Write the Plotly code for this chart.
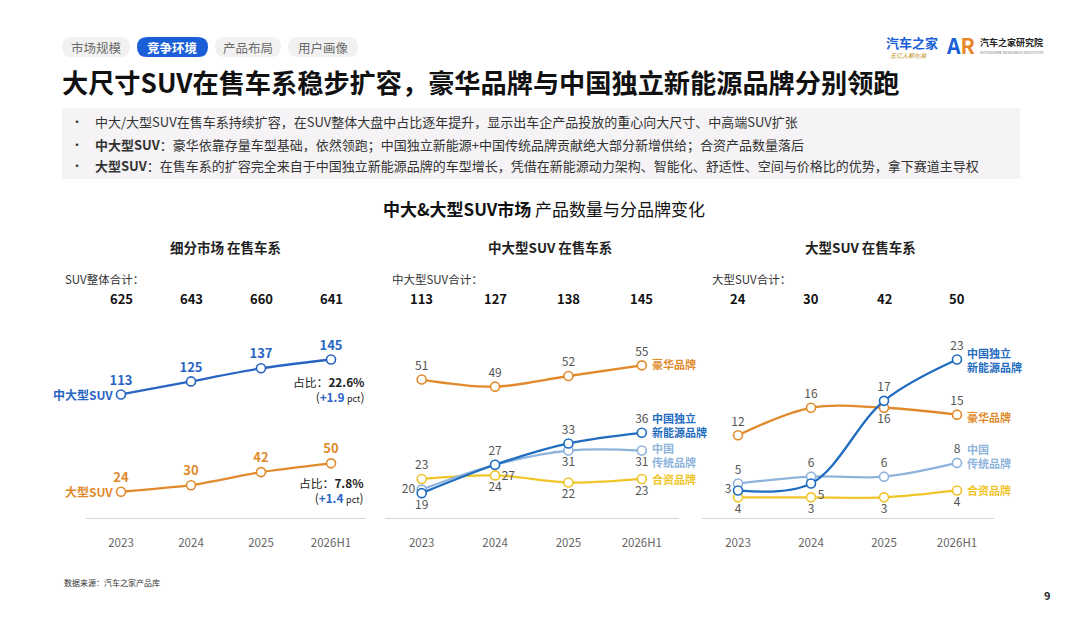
import plotly.graph_objects as go

# page offset: the browser body keeps an 8px margin round the plot
OX, OY = 8, 8
W, H = 1064, 606
FONT = "Noto Sans CJK SC"

# ---------------- data ----------------
years = ["2023", "2024", "2025", "2026H1"]

# chart 1: segment market
total_suv = [625, 643, 660, 641]
mid_large_suv = [113, 125, 137, 145]
large_suv = [24, 30, 42, 50]

# chart 2: mid-large SUV by brand type
total_mid_large = [113, 127, 138, 145]
ml_luxury = [51, 49, 52, 55]
ml_cn_nev = [19, 27, 33, 36]
ml_cn_trad = [20, 27, 31, 31]
ml_jv = [23, 24, 22, 23]

# chart 3: large SUV by brand type (plotted positions / printed labels)
total_large = [24, 30, 42, 50]
lg_luxury = [12, 16, 16, 15]
lg_cn_nev = [4, 5, 17, 23]
lg_cn_nev_labels = ["3", "5", "17", "23"]
lg_cn_trad = [5, 6, 6, 8]
lg_jv = [3, 3, 3, 4]
lg_jv_labels = ["4", "3", "3", "4"]

# ---------------- colours ----------------
BLUE1 = "#2864c2"
ORANGE = "#e08a2c"
NEV = "#1f6cc0"
TRAD = "#8fb4dc"
JV = "#f0c52a"
GRAY = "#555555"


def px(x):
    return (x - OX) / W


def py(y):
    return 1 - (y - OY) / H


fig = go.Figure()

# axes geometry (screen pixels)
Y_BOT, Y_TOP = 518, 310
doms = [(86, 366), (385, 678.5), (701.5, 993.5)]
ppu = [1.093, 3.55, 6.89]
ymins = [0, 12, 0]

for i, ((x0, x1), k, ymin) in enumerate(zip(doms, ppu, ymins)):
    sfx = "" if i == 0 else str(i + 1)
    fig.update_layout(**{
        "xaxis" + sfx: dict(
            domain=[px(x0), px(x1)], anchor="y" + sfx, type="category",
            range=[-0.5, 3.5], showgrid=False, zeroline=False,
            showline=True, linecolor="#d6d6d6", linewidth=1.2,
            ticks="", tickfont=dict(family=FONT, size=11.5, color="#666666"),
            ticklabelstandoff=14, fixedrange=True,
        ),
        "yaxis" + sfx: dict(
            domain=[py(Y_BOT), py(Y_TOP)], anchor="x" + sfx,
            range=[ymin, ymin + (Y_BOT - Y_TOP) / k],
            visible=False, showgrid=False, zeroline=False, fixedrange=True,
        ),
    })


def add_line(xa, ya, vals, color, labels=None, positions="top center",
             lcolor=None, bold=False, size=12, smooth=1.0):
    fig.add_trace(go.Scatter(
        x=years, y=vals, xaxis=xa, yaxis=ya, mode="lines+markers+text",
        line=dict(color=color, width=2.3, shape="spline", smoothing=smooth),
        marker=dict(size=9, color="white", line=dict(color=color, width=1.6)),
        text=labels if labels is not None else [str(v) for v in vals],
        textposition=positions,
        textfont=dict(family=FONT, size=size, color=lcolor or GRAY,
                      weight="bold" if bold else "normal"),
        cliponaxis=False, showlegend=False, hoverinfo="skip",
    ))


# chart 1
add_line("x", "y", mid_large_suv, BLUE1, lcolor=BLUE1, bold=True, size=13, smooth=0.6)
add_line("x", "y", large_suv, ORANGE, lcolor=ORANGE, bold=True, size=13, smooth=0.6)

# chart 2
add_line("x2", "y2", ml_luxury, ORANGE)
add_line("x2", "y2", ml_jv, JV,
         positions=["top center", "bottom center", "bottom center", "bottom center"])
add_line("x2", "y2", ml_cn_trad, TRAD,
         positions=["middle left", "bottom right", "bottom center", "bottom center"])
add_line("x2", "y2", ml_cn_nev, NEV,
         positions=["bottom center", "top center", "top center", "top center"])

# chart 3
add_line("x3", "y3", lg_luxury, ORANGE,
         positions=["top center", "top center", "bottom center", "top center"])
add_line("x3", "y3", lg_jv, JV, labels=lg_jv_labels, positions="bottom center")
add_line("x3", "y3", lg_cn_trad, TRAD)
add_line("x3", "y3", lg_cn_nev, NEV, labels=lg_cn_nev_labels,
         positions=["middle left", "bottom right", "top center", "top center"])

ann = []


def text(x, y, s, size=12, color="#222222", bold=False, xanchor="left",
         yanchor="middle", xref="paper", yref="paper", xshift=0, yshift=0, align="left"):
    ann.append(dict(
        x=x, y=y, xref=xref, yref=yref, text=s, showarrow=False,
        xanchor=xanchor, yanchor=yanchor, xshift=xshift, yshift=yshift, align=align,
        font=dict(family=FONT, size=size, color=color,
                  weight="bold" if bold else "normal"),
    ))


LAST = len(years) - 1  # category index of last year

# chart titles and totals
titles = ["细分市场 在售车系", "中大型SUV 在售车系", "大型SUV 在售车系"]
tot_caps = ["SUV整体合计：", "中大型SUV合计：", "大型SUV合计："]
tot_vals = [total_suv, total_mid_large, total_large]
title_cx = [225, 550, 860]
cap_x = [63, 390, 710]
for i in range(3):
    sfx = "" if i == 0 else str(i + 1)
    text(px(title_cx[i]), py(247), titles[i], size=13.5, bold=True, xanchor="center")
    text(px(cap_x[i]), py(279), tot_caps[i], size=11.5, color="#333333")
    for j, v in enumerate(tot_vals[i]):
        text(j, py(298), str(v), size=13, bold=True, xanchor="center",
             xref="x" + sfx, color="#111111")

# chart 1 series names and share notes
text(0, mid_large_suv[0], "中大型SUV", size=12, bold=True, color=BLUE1,
     xanchor="right", xref="x", yref="y", xshift=-6)
text(0, large_suv[0], "大型SUV", size=12, bold=True, color=ORANGE,
     xanchor="right", xref="x", yref="y", xshift=-6)
share_notes = [("22.6%", "+1.9", 389), ("7.8%", "+1.4", 490)]
for share, delta, yy in share_notes:
    text(px(366), py(yy),
         f"占比：<b>{share}</b><br>(<span style='color:#2864c2'><b>{delta}</b></span> "
         f"<span style='font-size:9px'>pct</span>)",
         size=11.8, color="#222222", xanchor="right", align="right")

# chart 2 / 3 series names
for sfx, lux, nev, trad, jv, shifts in [
    ("2", ml_luxury, ml_cn_nev, ml_cn_trad, ml_jv, (1, 8, -4, 0)),
    ("3", lg_luxury, lg_cn_nev, lg_cn_trad, lg_jv, (-2, 0, 7, 0)),
]:
    xr, yr_ = "x" + sfx, "y" + sfx
    text(LAST, lux[-1], "豪华品牌", size=11, bold=True, color=ORANGE,
         xref=xr, yref=yr_, xshift=8, yshift=shifts[0])
    text(LAST, nev[-1], "中国独立<br>新能源品牌", size=11, bold=True, color=NEV,
         xref=xr, yref=yr_, xshift=8, yshift=shifts[1])
    text(LAST, trad[-1], "中国<br>传统品牌", size=11, bold=True, color=TRAD,
         xref=xr, yref=yr_, xshift=8, yshift=shifts[2])
    text(LAST, jv[-1], "合资品牌", size=11, bold=True, color=JV,
         xref=xr, yref=yr_, xshift=8, yshift=shifts[3])

# header
shapes = []


def rrect(x0, y0, x1, y1, r, fill):
    X0, X1 = px(x0), px(x1)
    Y0, Y1 = py(y0), py(y1)
    rx, ry = r / W, r / H
    path = (f"M {X0+rx},{Y0} L {X1-rx},{Y0} Q {X1},{Y0} {X1},{Y0-ry} "
            f"L {X1},{Y1+ry} Q {X1},{Y1} {X1-rx},{Y1} L {X0+rx},{Y1} "
            f"Q {X0},{Y1} {X0},{Y1+ry} L {X0},{Y0-ry} Q {X0},{Y0} {X0+rx},{Y0} Z")
    shapes.append(dict(type="path", path=path, xref="paper", yref="paper",
                       fillcolor=fill, line=dict(width=0), layer="below"))


tabs = ["市场规模", "竞争环境", "产品布局", "用户画像"]
tab_x = [(62, 130), (137, 208), (215, 281), (288, 358)]
for i, (t, (a, b)) in enumerate(zip(tabs, tab_x)):
    active = i == 1
    rrect(a, 37, b, 57, 10, "#1a5fd8" if active else "#f1f1f1")
    text(px((a + b) / 2), py(47), t, size=12.5, bold=active,
         color="white" if active else "#6a6a6a", xanchor="center")

text(px(60), py(82), "大尺寸SUV在售车系稳步扩容，豪华品牌与中国独立新能源品牌分别领跑",
     size=26.2, bold=True, color="#111111")

shapes.append(dict(type="rect", xref="paper", yref="paper", x0=px(62), x1=px(1020),
                   y0=py(108), y1=py(179), fillcolor="#f5f3f5", line=dict(width=0),
                   layer="below"))
bullets = [
    "中大/大型SUV在售车系持续扩容，在SUV整体大盘中占比逐年提升，显示出车企产品投放的重心向大尺寸、中高端SUV扩张",
    "<b>中大型SUV</b>：豪华依靠存量车型基础，依然领跑；中国独立新能源+中国传统品牌贡献绝大部分新增供给；合资产品数量落后",
    "<b>大型SUV</b>：在售车系的扩容完全来自于中国独立新能源品牌的车型增长，凭借在新能源动力架构、智能化、舒适性、空间与价格比的优势，拿下赛道主导权",
]
for yy, b in zip([122, 144, 165], bullets):
    text(px(69), py(yy), "•", size=12, color="#333333")
    text(px(93), py(yy), b, size=13, color="#333333")

text(px(544), py(208), "<b>中大&大型SUV市场</b> 产品数量与分品牌变化", size=17,
     color="#111111", xanchor="center")

# logos
text(px(884), py(42), "汽车之家", size=13, bold=True, color="#1a5fd8")
text(px(888), py(55), "<i>五亿人都在用</i>", size=6, color="#c09020")
text(px(944), py(45), "<span style='color:#1a5fd8'>A</span><span style='color:#e8862a'>R</span>",
     size=21, bold=True)
text(px(978), py(43), "汽车之家研究院", size=9, bold=True, color="#222222")
text(px(978), py(52), "AUTOHOME RESEARCH INSTITUTE", size=4, color="#777777")

# footer
text(px(62), py(582), "数据来源：汽车之家产品库", size=8, color="#333333")
text(px(1047), py(595), "9", size=11, bold=True, color="#222222", xanchor="center")

fig.update_layout(
    width=W, height=H, margin=dict(l=0, r=0, t=0, b=0),
    paper_bgcolor="white", plot_bgcolor="white",
    annotations=ann, shapes=shapes, showlegend=False,
    font=dict(family=FONT),
)

fig.write_html("out.html", config={"displayModeBar": False})
